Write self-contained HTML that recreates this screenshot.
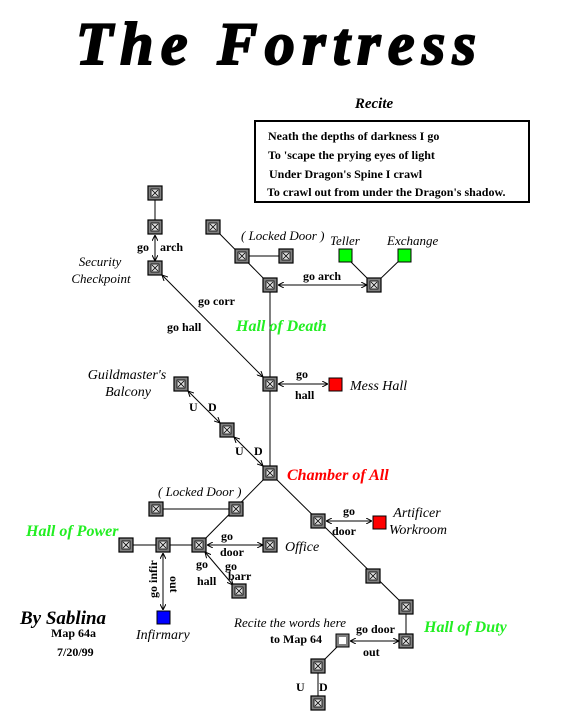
<!DOCTYPE html>
<html><head><meta charset="utf-8"><style>
html,body{margin:0;padding:0;background:#fff;}
svg{display:block;}
text{font-family:"Liberation Serif",serif;}
.b{font-weight:bold;font-size:12px;}
.i{font-style:italic;font-size:13px;}
.g{font-weight:bold;font-style:italic;font-size:16px;fill:#22ee22;}
</style></head><body>
<svg width="580" height="725" viewBox="0 0 580 725" xmlns="http://www.w3.org/2000/svg">
<defs>
<symbol id="n" viewBox="0 0 14 14" overflow="visible">
<rect x="-7" y="-7" width="14" height="14" fill="#808080" stroke="#000" stroke-width="1.2"/>
<rect x="-4" y="-4" width="8" height="8" fill="#ddd" stroke="#000" stroke-width="0.8"/>
<path d="M-3,-3L3,3M3,-3L-3,3" stroke="#000" stroke-width="0.8"/>
</symbol>
<marker id="a" markerWidth="6" markerHeight="6" refX="6" refY="3" orient="auto-start-reverse" markerUnits="userSpaceOnUse"><path d="M0,0L6,3L0,6" fill="none" stroke="#000" stroke-width="1"/></marker>
</defs>
<text x="76" y="64" textLength="400" lengthAdjust="spacing" style="font-family:'Liberation Serif',serif;font-weight:bold;font-style:italic;font-size:60px;stroke:#000;stroke-width:2">The Fortress</text>
<text x="374" y="108" text-anchor="middle" style="font-weight:bold;font-style:italic;font-size:15px">Recite</text>
<rect x="255" y="121" width="274" height="81" fill="none" stroke="#000" stroke-width="2"/>
<text class="b" x="268" y="140">Neath the depths of darkness I go</text>
<text class="b" x="268" y="159">To 'scape the prying eyes of light</text>
<text class="b" x="269" y="178">Under Dragon's Spine I crawl</text>
<text class="b" x="267" y="196">To crawl out from under the Dragon's shadow.</text>
<g stroke="#000" stroke-width="1" fill="none">
<line x1="155" y1="193" x2="155" y2="227"/>
<line x1="155" y1="235" x2="155" y2="261" marker-start="url(#a)" marker-end="url(#a)"/>
<line x1="213" y1="227" x2="270" y2="285"/>
<line x1="242" y1="256" x2="286" y2="256"/>
<line x1="278" y1="285" x2="367" y2="285" marker-start="url(#a)" marker-end="url(#a)"/>
<line x1="345" y1="256" x2="374" y2="285"/>
<line x1="404" y1="256" x2="374" y2="285"/>
<line x1="270" y1="285" x2="270" y2="473"/>
<line x1="162" y1="275" x2="263" y2="377" marker-start="url(#a)" marker-end="url(#a)"/>
<line x1="278" y1="384" x2="328" y2="384" marker-start="url(#a)" marker-end="url(#a)"/>
<line x1="188" y1="391" x2="220" y2="423" marker-start="url(#a)" marker-end="url(#a)"/>
<line x1="234" y1="437" x2="263" y2="466" marker-start="url(#a)" marker-end="url(#a)"/>
<line x1="270" y1="473" x2="199" y2="545"/>
<line x1="156" y1="509" x2="236" y2="509"/>
<line x1="270" y1="473" x2="406" y2="607"/>
<line x1="326" y1="521" x2="372" y2="521" marker-start="url(#a)" marker-end="url(#a)"/>
<line x1="126" y1="545" x2="199" y2="545"/>
<line x1="207" y1="545" x2="263" y2="545" marker-start="url(#a)" marker-end="url(#a)"/>
<line x1="205" y1="552" x2="233" y2="585" marker-start="url(#a)" marker-end="url(#a)"/>
<line x1="163" y1="553" x2="163" y2="610" marker-start="url(#a)" marker-end="url(#a)"/>
<line x1="406" y1="607" x2="406" y2="641"/>
<line x1="350" y1="641" x2="399" y2="641" marker-start="url(#a)" marker-end="url(#a)"/>
<line x1="343" y1="641" x2="318" y2="666"/>
<line x1="318" y1="666" x2="318" y2="703"/>
</g>
<g>
<use href="#n" x="155" y="193" width="14" height="14"/>
<use href="#n" x="155" y="227" width="14" height="14"/>
<use href="#n" x="155" y="268" width="14" height="14"/>
<use href="#n" x="213" y="227" width="14" height="14"/>
<use href="#n" x="242" y="256" width="14" height="14"/>
<use href="#n" x="286" y="256" width="14" height="14"/>
<use href="#n" x="270" y="285" width="14" height="14"/>
<use href="#n" x="374" y="285" width="14" height="14"/>
<use href="#n" x="270" y="384" width="14" height="14"/>
<use href="#n" x="181" y="384" width="14" height="14"/>
<use href="#n" x="227" y="430" width="14" height="14"/>
<use href="#n" x="270" y="473" width="14" height="14"/>
<use href="#n" x="156" y="509" width="14" height="14"/>
<use href="#n" x="236" y="509" width="14" height="14"/>
<use href="#n" x="126" y="545" width="14" height="14"/>
<use href="#n" x="163" y="545" width="14" height="14"/>
<use href="#n" x="199" y="545" width="14" height="14"/>
<use href="#n" x="270" y="545" width="14" height="14"/>
<use href="#n" x="239" y="591" width="14" height="14"/>
<use href="#n" x="318" y="521" width="14" height="14"/>
<use href="#n" x="373" y="576" width="14" height="14"/>
<use href="#n" x="406" y="607" width="14" height="14"/>
<use href="#n" x="406" y="641" width="14" height="14"/>
<use href="#n" x="318" y="666" width="14" height="14"/>
<use href="#n" x="318" y="703" width="14" height="14"/>
</g>
<rect x="339" y="249" width="13" height="13" fill="#00ff00" stroke="#000"/>
<rect x="398" y="249" width="13" height="13" fill="#00ff00" stroke="#000"/>
<rect x="329" y="378" width="13" height="13" fill="#ff0000" stroke="#000"/>
<rect x="373" y="516" width="13" height="13" fill="#ff0000" stroke="#000"/>
<rect x="157" y="611" width="13" height="13" fill="#0000ff" stroke="#000"/>
<rect x="336" y="634" width="13" height="13" fill="#808080" stroke="#000"/>
<rect x="339" y="637" width="7" height="7" fill="#fff"/>
<g class="b">
<text x="137" y="251">go</text><text x="160" y="251">arch</text>
<text x="303" y="280">go arch</text>
<text x="198" y="305">go corr</text>
<text x="167" y="331">go hall</text>
<text x="296" y="378">go</text><text x="295" y="399">hall</text>
<text x="189" y="411">U</text><text x="208" y="411">D</text>
<text x="235" y="455">U</text><text x="254" y="455">D</text>
<text x="343" y="515">go</text><text x="332" y="535">door</text>
<text x="221" y="540">go</text><text x="220" y="556">door</text>
<text x="196" y="568">go</text><text x="197" y="585">hall</text>
<text x="225" y="570">go</text><text x="228" y="580">barr</text>
<text x="356" y="633">go door</text>
<text x="363" y="656">out</text>
<text x="270" y="643">to Map 64</text>
<text x="296" y="691">U</text><text x="319" y="691">D</text>
<text x="51" y="637">Map 64a</text>
<text x="57" y="656">7/20/99</text>
<text transform="translate(157,598) rotate(-90)">go infir</text>
<text transform="translate(170,576) rotate(90)">out</text>
</g>
<g class="i">
<text x="100" y="266" text-anchor="middle">Security</text>
<text x="101" y="283" text-anchor="middle">Checkpoint</text>
<text x="241" y="240">( Locked Door )</text>
<text x="330" y="245">Teller</text>
<text x="387" y="245">Exchange</text>
<text x="350" y="390" style="font-size:14px">Mess Hall</text>
<text x="127" y="379" text-anchor="middle" style="font-size:14px">Guildmaster's</text>
<text x="128" y="396" text-anchor="middle" style="font-size:14px">Balcony</text>
<text x="158" y="496">( Locked Door )</text>
<text x="285" y="551" style="font-size:14px">Office</text>
<text x="417" y="517" text-anchor="middle" style="font-size:14px">Artificer</text>
<text x="418" y="534" text-anchor="middle" style="font-size:14px">Workroom</text>
<text x="136" y="639" style="font-size:14px">Infirmary</text>
<text x="234" y="627">Recite the words here</text>
</g>
<text class="g" x="236" y="331">Hall of Death</text>
<text x="287" y="480" style="font-weight:bold;font-style:italic;font-size:16px;fill:#ff0000">Chamber of All</text>
<text class="g" x="26" y="536">Hall of Power</text>
<text class="g" x="424" y="632">Hall of Duty</text>
<text x="20" y="624" style="font-weight:bold;font-style:italic;font-size:19px">By Sablina</text>
</svg>
</body></html>
